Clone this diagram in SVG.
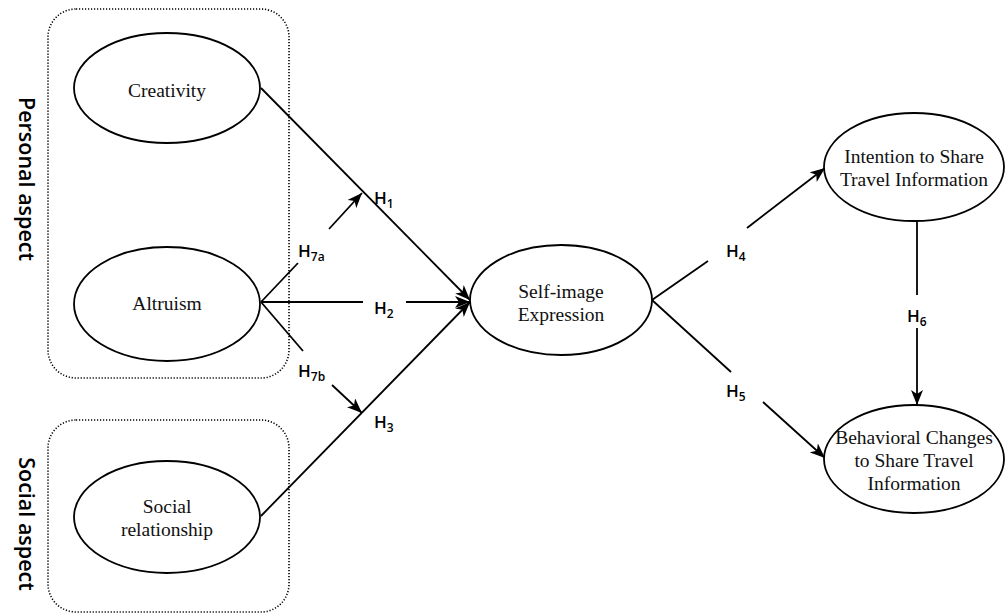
<svg xmlns="http://www.w3.org/2000/svg" width="1005" height="614" viewBox="0 0 1005 614">
<style>
.grp{fill:none;stroke:#000;stroke-width:1.6;stroke-dasharray:1.2 1.8}
.node{fill:#fff;stroke:#000;stroke-width:1.8}
.lbl{font-family:"Liberation Serif","Times New Roman",serif;font-size:19.5px;fill:#111;text-anchor:middle}
.h{font-family:"Open Sans","DejaVu Sans",sans-serif;font-weight:600;font-size:17px;fill:#000}
.h tspan{font-size:12px}
.asp{font-family:"Open Sans","DejaVu Sans",sans-serif;font-weight:600;font-size:21.5px;fill:#000;text-anchor:middle}
.c{fill:none;stroke:#000;stroke-width:1.8}
</style>
<defs>
<marker id="arr" markerUnits="userSpaceOnUse" markerWidth="16" markerHeight="12" refX="15" refY="6" orient="auto">
<path d="M0,0 L15,6 L0,12 L4,6 z" fill="#000"/>
</marker>
</defs>
<g id="personal-aspect">
<rect class="grp" x="48" y="9" width="241" height="369" rx="28"/>
<text class="asp" transform="translate(19,179) rotate(90)">Personal aspect</text>
</g>
<g id="social-aspect">
<rect class="grp" x="48" y="420" width="241" height="192" rx="28"/>
<text class="asp" transform="translate(19,524) rotate(90)">Social aspect</text>
</g>
<g id="connectors">
<line class="c" x1="261" y1="88" x2="470" y2="300" marker-end="url(#arr)"/>
<line class="c" x1="261" y1="302" x2="363" y2="302"/>
<line class="c" x1="406" y1="302" x2="470" y2="302" marker-end="url(#arr)"/>
<line class="c" x1="261" y1="516" x2="470" y2="302" marker-end="url(#arr)"/>
<line class="c" x1="261" y1="302" x2="298" y2="263"/>
<line class="c" x1="329" y1="229" x2="362" y2="193" marker-end="url(#arr)"/>
<line class="c" x1="261" y1="302" x2="303" y2="351"/>
<line class="c" x1="332" y1="385" x2="362" y2="413" marker-end="url(#arr)"/>
<line class="c" x1="652" y1="300" x2="708" y2="261"/>
<line class="c" x1="747" y1="228" x2="825" y2="168" marker-end="url(#arr)"/>
<line class="c" x1="652" y1="300" x2="731" y2="372"/>
<line class="c" x1="763" y1="402" x2="825" y2="458" marker-end="url(#arr)"/>
<line class="c" x1="917" y1="221" x2="917" y2="295"/>
<line class="c" x1="917" y1="328" x2="917" y2="405" marker-end="url(#arr)"/>
</g>
<g id="hyp-labels">
<text class="h" x="374" y="204">H<tspan dy="4">1</tspan></text>
<text class="h" x="298" y="257">H<tspan dy="4">7a</tspan></text>
<text class="h" x="374" y="314">H<tspan dy="4">2</tspan></text>
<text class="h" x="298" y="377">H<tspan dy="4">7b</tspan></text>
<text class="h" x="374" y="428">H<tspan dy="4">3</tspan></text>
<text class="h" x="726" y="257">H<tspan dy="4">4</tspan></text>
<text class="h" x="726" y="397">H<tspan dy="4">5</tspan></text>
<text class="h" x="907" y="322">H<tspan dy="4">6</tspan></text>
</g>
<g id="creativity">
<ellipse class="node" cx="167" cy="88" rx="93" ry="55"/>
<text class="lbl" x="167" y="97">Creativity</text>
</g>
<g id="altruism">
<ellipse class="node" cx="167" cy="304" rx="93" ry="57"/>
<text class="lbl" x="167" y="310">Altruism</text>
</g>
<g id="social-relationship">
<ellipse class="node" cx="167" cy="517" rx="93" ry="56"/>
<text class="lbl" x="167" y="513">Social</text>
<text class="lbl" x="167" y="536">relationship</text>
</g>
<g id="self-image">
<ellipse class="node" cx="561" cy="300" rx="91" ry="55"/>
<text class="lbl" x="561" y="298">Self-image</text>
<text class="lbl" x="561" y="321">Expression</text>
</g>
<g id="intention">
<ellipse class="node" cx="914" cy="167" rx="90" ry="54"/>
<text class="lbl" x="914" y="163">Intention to Share</text>
<text class="lbl" x="914" y="186">Travel Information</text>
</g>
<g id="behavioral">
<ellipse class="node" cx="914" cy="459" rx="90" ry="54"/>
<text class="lbl" x="914" y="444">Behavioral Changes</text>
<text class="lbl" x="914" y="467">to Share Travel</text>
<text class="lbl" x="914" y="490">Information</text>
</g>
</svg>
